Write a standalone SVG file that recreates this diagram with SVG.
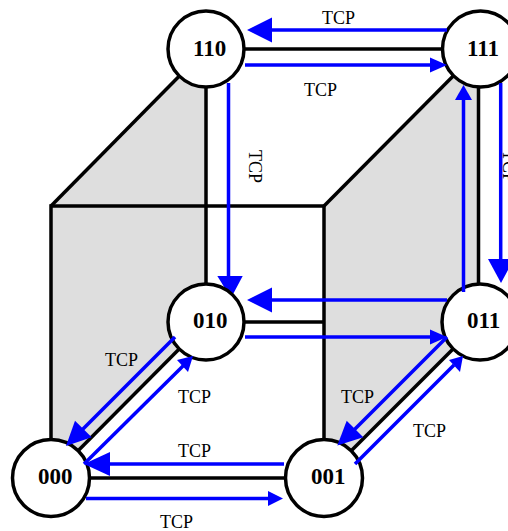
<svg xmlns="http://www.w3.org/2000/svg" width="508" height="531" viewBox="0 0 508 531">
<style>
.face{fill:#dedede;stroke:none}
.edge{stroke:#000;stroke-width:3.5;fill:none;stroke-linecap:butt;stroke-linejoin:miter}
.flow{stroke:#00f;stroke-width:3.500;fill:none}
.head{fill:#00f;stroke:none}
.node circle{fill:#fff;stroke:#000;stroke-width:3.5}
.num{font:bold 23px "Liberation Serif",serif;fill:#000}
.tcp{font:18px "Liberation Serif",serif;fill:#000}
</style>
<rect width="508" height="531" fill="#fff"/>
<g id="faces">
<polygon class="face" points="51,206 206,49 206,322 51,478"/>
<polygon class="face" points="324,206 479,49 479,322 324,478"/>
</g>
<g id="connectors">
<path class="edge" d="M51,478V206H324V478"/>
<path class="edge" d="M51,206L206,49"/>
<path class="edge" d="M324,206L479,50"/>
<path class="edge" d="M206,49H480"/>
<path class="edge" d="M206,49V322"/>
<path class="edge" d="M478.500,49V322"/>
<path class="edge" d="M206,322H324"/>
<path class="edge" d="M51,478L206,322"/>
<path class="edge" d="M324,478L480,322"/>
<path class="edge" d="M51,478H324"/>
<path class="flow" d="M228.500,83V278"/><polygon class="head" points="231,298 217.300,276 242.700,276"/>
</g>
<g id="node-110" class="node"><circle cx="206" cy="49" r="38"/><text class="num" x="193" y="56">110</text></g>
<g id="node-111" class="node"><circle cx="480.500" cy="49" r="38"/><text class="num" x="467" y="56">111</text></g>
<g id="node-010" class="node"><circle cx="206" cy="322" r="38"/><text class="num" x="193" y="328">010</text></g>
<g id="node-011" class="node"><circle cx="480" cy="322" r="38"/><text class="num" x="467" y="328">011</text></g>
<g id="node-000" class="node"><circle cx="51" cy="478" r="38.500"/><text class="num" x="38" y="484">000</text></g>
<g id="node-001" class="node"><circle cx="324" cy="478" r="38.500"/><text class="num" x="311" y="484">001</text></g>
<g id="flows">
<path class="flow" d="M447,30H270"/><polygon class="head" points="247,30 272,17.500 272,42.500"/>
<path class="flow" d="M245,65H432"/><polygon class="head" points="447,65 430,57.500 430,72.500"/>
<path class="flow" d="M500.700,83V261"/><polygon class="head" points="501,283 488,259 514,259"/>
<path class="flow" d="M463.500,292V98"/><polygon class="head" points="463.500,85 455,100 472,100"/>
<path class="flow" d="M447,300H270"/><polygon class="head" points="247,300 272,287.500 272,312.500"/>
<path class="flow" d="M245,337H432"/><polygon class="head" points="447,337 430,329.500 430,344.500"/>
<path class="flow" d="M175,337L82,430"/><polygon class="head" points="66,446 75,420.700 91.700,437.300"/>
<path class="flow" d="M84,464L184,365"/><polygon class="head" points="193,356 188,372 177,360"/>
<path class="flow" d="M284,464H108"/><polygon class="head" points="84,464 110,452 110,476"/>
<path class="flow" d="M86,498.500H270"/><polygon class="head" points="283,498.500 268,491 268,506"/>
<path class="flow" d="M447,337L354,430"/><polygon class="head" points="337.300,445.500 346.700,420.700 363.300,437.300"/>
<path class="flow" d="M355,464L454,365"/><polygon class="head" points="463,356 460,372 449,360"/>
</g>
<g id="labels">
<text class="tcp" x="322" y="24">TCP</text>
<text class="tcp" x="304" y="96">TCP</text>
<text class="tcp" transform="translate(249,150) rotate(90)">TCP</text>
<text class="tcp" transform="translate(503,150) rotate(90)">TCP</text>
<text class="tcp" x="105" y="366">TCP</text>
<text class="tcp" x="178" y="403">TCP</text>
<text class="tcp" x="178" y="457">TCP</text>
<text class="tcp" x="160" y="528">TCP</text>
<text class="tcp" x="341" y="403">TCP</text>
<text class="tcp" x="413" y="437">TCP</text>
</g>
</svg>
